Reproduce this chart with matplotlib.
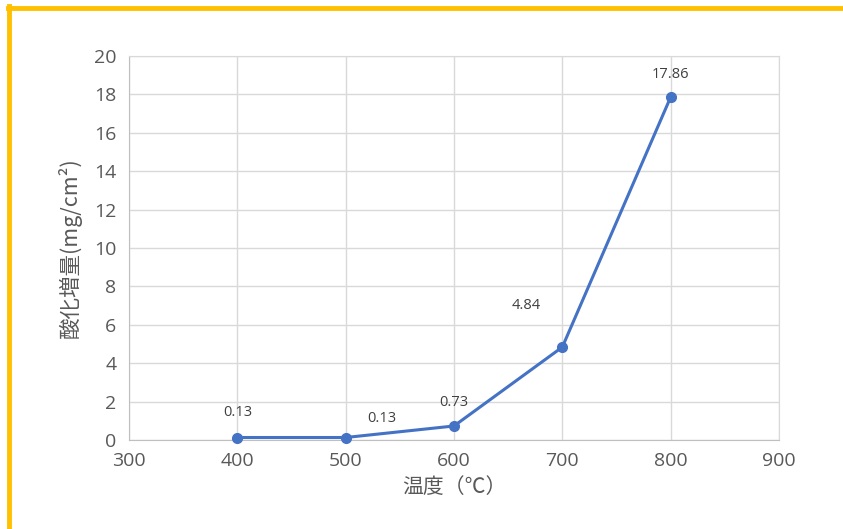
import matplotlib
matplotlib.use("Agg")
import matplotlib.pyplot as plt
from matplotlib.lines import Line2D

plt.rcParams['font.family'] = ['Noto Sans CJK JP', 'DejaVu Sans']

temps = [400, 500, 600, 700, 800]
gain = [0.13, 0.13, 0.73, 4.84, 17.86]
labels = ["0.13", "0.13", "0.73", "4.84", "17.86"]
label_offsets = [(0, 25), (36, 19), (0, 23), (-36, 42), (0, 23)]
xticks = [300, 400, 500, 600, 700, 800, 900]
yticks = list(range(0, 21, 2))

fig = plt.figure(figsize=(8.43, 5.29), dpi=100)
ax = fig.add_axes([129/843, 1-440/529, 650/843, 384/529])

ax.plot(temps, gain, color='#4472C4', linewidth=2.2, marker='o', markersize=7, zorder=3, clip_on=False)
for x, y, t, off in zip(temps, gain, labels, label_offsets):
    ax.annotate(t, (x, y), xytext=off, textcoords='offset pixels', ha='center', va='center',
                fontsize=10.5, color='#404040', family=['Open Sans', 'DejaVu Sans'])

ax.set_xlim(300, 900)
ax.set_ylim(0, 20)
ax.set_xticks(xticks)
ax.set_yticks(yticks)
ax.grid(True, color='#D9D9D9', linewidth=1)
ax.set_axisbelow(True)
for s in ['top', 'right']:
    ax.spines[s].set_color('#D9D9D9')
for s in ['left', 'bottom']:
    ax.spines[s].set_color('#BFBFBF')
ax.tick_params(length=0, labelsize=14, colors='#595959', pad=9)
for lab in ax.get_xticklabels() + ax.get_yticklabels():
    lab.set_family(['Open Sans', 'DejaVu Sans'])
ax.set_xlabel('温度（℃）', fontsize=15, color='#595959', labelpad=4)
ax.set_ylabel('酸化増量(mg/cm²)', fontsize=15.5, color='#595959', labelpad=9)

# orange border
fig.add_artist(Line2D([8/843, 1], [1-7.5/529, 1-7.5/529], color='#FFC000', linewidth=3.5, transform=fig.transFigure))
fig.add_artist(Line2D([8.5/843, 8.5/843], [0, 1-6/529], color='#FFC000', linewidth=3.5, transform=fig.transFigure))

fig.savefig('out.png', dpi=100)
